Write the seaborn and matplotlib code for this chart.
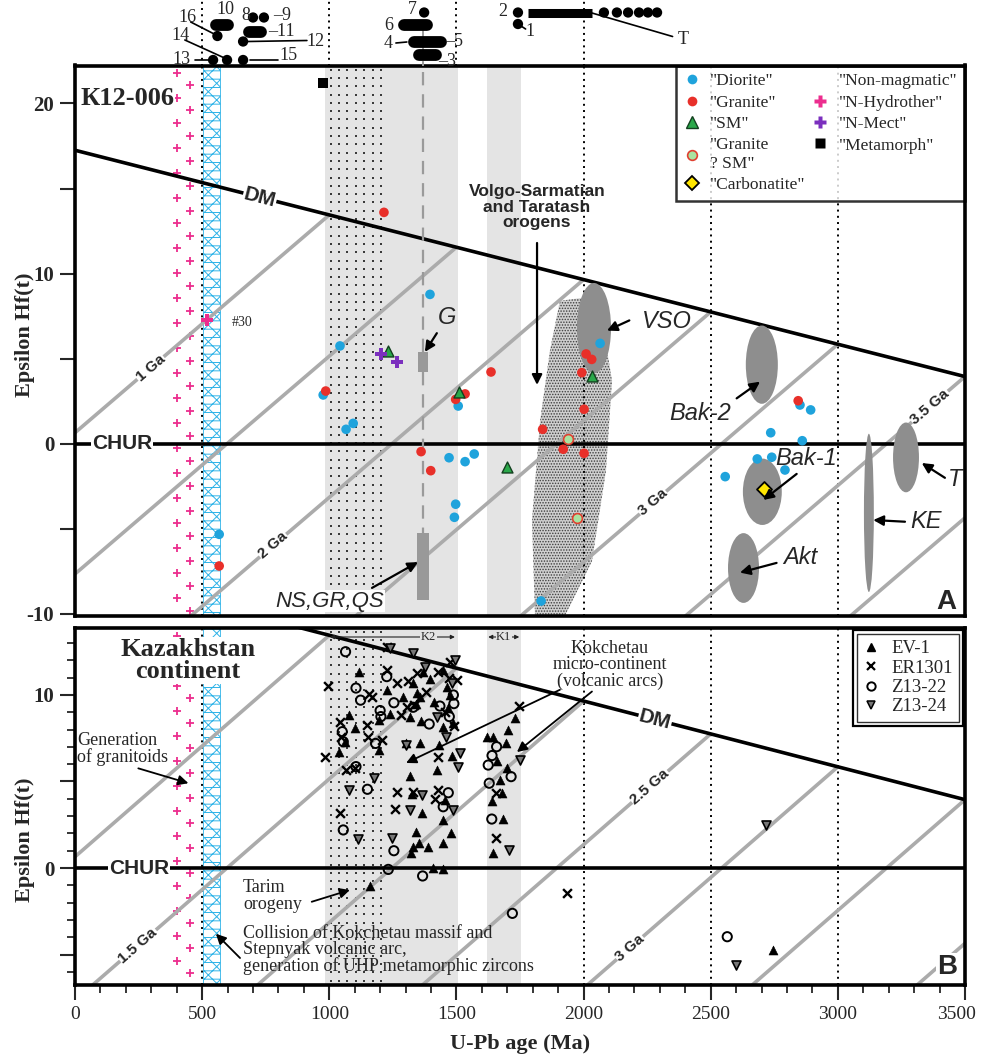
import numpy as np
import matplotlib
matplotlib.use("Agg")
import matplotlib.pyplot as plt
import matplotlib.transforms as mtransforms
import seaborn as sns
from matplotlib.patches import Ellipse, Rectangle, Polygon
from matplotlib.lines import Line2D

# ---------------------------------------------------------------- data
# Panel A: sample K12-006, U-Pb age (Ma) and epsilon Hf(t)
diorite_age = [976, 1066, 1094, 1042, 1396, 1471, 1534, 1570, 1507, 1497, 1492, 567,
               1833, 2065, 2851, 2893, 2736, 2860, 2683, 2740, 2792, 2557]
diorite_eps = [2.87, 0.85, 1.20, 5.75, 8.78, -0.82, -1.05, -0.60, 2.22, -3.55, -4.32, -5.32,
               -9.24, 5.90, 2.28, 1.99, 0.65, 0.18, -0.89, -0.79, -1.54, -1.93]
granite_age = [986, 1215, 1361, 1399, 1534, 1497, 1636, 2010, 2032, 1993, 2002, 1839,
               1920, 2002, 567, 2844]
granite_eps = [3.10, 13.6, -0.46, -1.58, 2.93, 2.61, 4.22, 5.28, 4.96, 4.18, 2.03, 0.85,
               -0.32, -0.56, -7.18, 2.53]
sm_age = [1510, 1697, 2032, 1231]
sm_eps = [3.06, -1.39, 3.98, 5.45]
granite_sm_age = [1940, 1973]
granite_sm_eps = [0.26, -4.38]
carbonatite_age = [2711]
carbonatite_eps = [-2.66]
hydrother_age = [519]
hydrother_eps = [7.27]
mect_age = [1203, 1266]
mect_eps = [5.28, 4.81]
metamorph_age = [976]
metamorph_eps = [21.2]

# Reference fields (centre age, centre eps, width Ma, height eps)
field_names = ["VSO", "Bak-2", "Bak-1", "Akt", "KE", "T"]
field_age = [2041, 2701, 2703, 2629, 3122, 3268]
field_eps = [6.8, 4.65, -2.82, -7.3, -4.06, -0.8]
field_width = [134, 126, 153, 122, 39, 102]
field_height = [5.3, 4.6, 3.9, 4.1, 9.3, 4.1]

# Small reference boxes G and NS,GR,QS (age range, eps range)
box_names = ["G", "NS,GR,QS"]
box_age = [(1349, 1390), (1346, 1393)]
box_eps = [(4.2, 5.4), (-9.18, -5.22)]

# Volgo-Sarmatian / Taratash stippled outline
vs_age = [1907, 2057, 2112, 2088, 2033, 1927, 1809, 1797, 1829, 1868]
vs_eps = [8.4, 8.7, 3.7, -1.6, -6.9, -10.1, -10.1, -4.5, 1.35, 5.5]

# Panel B: Kazakhstan continent samples
ev1_age = [1118, 1079, 1039, 1197, 1197, 1226, 1330, 1357, 1317, 1302, 1357, 1317, 1324,
           1341, 1328, 1354, 1320, 1446, 1446, 1455, 1422, 1481, 1448, 1433, 1468, 1462,
           1448, 1370, 1344, 1619, 1645, 1704, 1730, 1695, 1671, 1678, 1645, 1682, 1409,
           1448, 1160, 2746, 1063, 1340, 1360, 1395, 1410, 1475, 1485, 1290, 1240, 1100,
           1660, 1640, 1700, 1365, 1480, 1390]
ev1_eps = [11.35, 8.84, 6.72, 8.55, 6.82, 10.3, 10.7, 9.9, 8.75, 7.2, 7.2, 5.3, 4.3,
           2.1, 1.23, 1.43, 0.85, 2.77, 1.46, 3.93, 5.66, 6.47, 8.17, 7.11, 9.23, 10.48,
           11.45, 11.35, 10.1, 7.59, 7.59, 7.98, 8.65, 7.2, 5.09, 4.35, 0.85, 2.83, -0.02,
           -0.08, -1.04, -4.74, 7.3, 9.5, 8.5, 10.9, 9.6, 10.0, 8.4, 9.9, 8.9, 8.1,
           6.2, 3.9, 5.8, 3.2, 2.0, 1.2]
er1301_age = [1226, 996, 1228, 1265, 1157, 1311, 1344, 1429, 1475, 1501, 1042, 1150, 1153,
              1206, 1281, 1304, 983, 1066, 1265, 1328, 1258, 1429, 1429, 1042, 1747, 1656,
              1656, 1934, 1167, 1380, 1455, 1335, 1490, 1415, 1470, 1046, 1100]
er1301_eps = [12.8, 10.5, 11.45, 10.7, 10.06, 10.8, 11.25, 11.35, 11.93, 10.87, 8.46, 8.27,
              7.59, 7.4, 8.84, 9.29, 6.43, 5.66, 4.41, 4.41, 3.39, 6.43, 4.5, 3.2, 9.36, 4.32,
              1.72, -1.46, 9.9, 10.2, 9.0, 9.4, 8.2, 4.0, 11.0, 7.6, 5.8]
z1322_age = [1064, 1105, 1123, 1226, 1254, 1203, 1051, 1055, 1182, 1330, 1393, 1435, 1488,
             1472, 1105, 1150, 1055, 1254, 1232, 1367, 1468, 1448, 1658, 1625, 1629, 1715,
             1639, 1720, 2565, 1200, 1490, 1640]
z1322_eps = [12.5, 10.4, 9.7, 11.06, 9.55, 8.75, 7.88, 7.3, 7.2, 9.29, 8.32, 9.36, 10.0,
             8.75, 5.86, 4.55, 2.2, 1.0, -0.08, -0.46, 4.35, 3.54, 7.01, 5.95, 4.9, 5.28,
             2.83, -2.62, -3.97, 9.1, 9.5, 6.5]
z1324_age = [1239, 1330, 1514, 1507, 1079, 1363, 1317, 1488, 1114, 1245, 1750, 1708, 1302,
             1481, 1422, 2717, 2598, 1495, 1375, 1460, 1175]
z1324_eps = [12.7, 12.4, 6.63, 5.86, 4.5, 4.22, 3.35, 3.35, 1.66, 1.72, 6.24, 1.04, 7.1,
             10.7, 8.75, 2.49, -5.6, 12.0, 11.6, 7.6, 5.2]

# Model-age trajectories (Ga labels) and the depleted-mantle line
model_ages = [1000, 1500, 2000, 2500, 3000, 3500, 4000]
DM_AT_0, DM_SLOPE, CRUST_SLOPE = 17.25, -3.8, 12.8   # epsilon units per Ga

# Event bands (Ma)
granitoid_cols = [401, 452]
uhp_band = (505, 572)
k2_band = (983, 1506)
k1_band = (1620, 1752)
dot_field = (1005, 1206)

# Age axis ticks
age_ticks = list(range(0, 3501, 500))

# Numbered age groups above panel A (age, row from the top in px)
strip_dot_age = [543, 598, 661, 560, 661, 700, 743, 1373, 1742, 1742,
                 2080, 2131, 2175, 2218, 2253, 2289]
strip_dot_row = [60, 60, 60, 36, 41.5, 17.5, 17.5, 12.5, 12.5, 24,
                 12.5, 12.5, 12.5, 12.5, 12.5, 12.5]
strip_bar_start = [553, 684, 1292, 1334, 1352]
strip_bar_end = [600, 733, 1386, 1438, 1420]
strip_bar_row = [25, 32, 25, 42, 55]

# ---------------------------------------------------------------- style
sns.set_theme(style="white")
plt.rcParams.update({
    "font.family": ["Liberation Serif", "DejaVu Serif"],
    "hatch.linewidth": 0.7,
    "axes.linewidth": 2.4,
    "axes.edgecolor": "black",
    "xtick.direction": "out",
    "ytick.direction": "out",
})
SANS = ["Liberation Sans", "DejaVu Sans"]
GRAY_LINE = "#ababab"
BAND = "#e4e4e4"
FIELD = "#8e8e8e"

fig = plt.figure(figsize=(9.81, 10.59), dpi=100)
L, W = 75 / 981, 890 / 981
axA = fig.add_axes([L, 1 - 616 / 1059, W, (616 - 65.5) / 1059])
axB = fig.add_axes([L, 1 - 985 / 1059, W, (985 - 628) / 1059])
axT = fig.add_axes([L, 1 - 65.5 / 1059, W, 65.5 / 1059])

axA.set_xlim(0, 3500)
axA.set_ylim(-10.12, 22.23)
axB.set_xlim(0, 3500)
axB.set_ylim(-6.76, 13.87)
axT.set_xlim(0, 3500)
axT.set_ylim(65.5, 0)
axT.axis("off")


def eps_dm(t):
    return DM_AT_0 + DM_SLOPE * np.asarray(t, float) / 1000


def eps_crust(t, T):
    return eps_dm(T) - CRUST_SLOPE * (T - np.asarray(t, float)) / 1000


def slope_angle(ax, x, y, dx, dy):
    p1 = ax.transData.transform((x, y))
    p2 = ax.transData.transform((x + dx, y + dy))
    return np.degrees(np.arctan2(p2[1] - p1[1], p2[0] - p1[0]))


def sans_label(ax, x, y, s, size, angle=0, weight="bold", style="normal"):
    ax.text(x, y, s, fontsize=size, family=SANS, weight=weight, style=style,
            rotation=angle, rotation_mode="anchor", ha="center", va="center",
            zorder=7, bbox=dict(fc="white", ec="none", pad=0.6))


def arrow(ax, tail, head, lw=1.6):
    ax.annotate("", xy=head, xytext=tail, zorder=8,
                arrowprops=dict(arrowstyle="-|>", color="black", lw=lw,
                                mutation_scale=15, shrinkA=0, shrinkB=0))


def background(ax):
    y0, y1 = ax.get_ylim()
    px = (y1 - y0) / ax.bbox.height
    # grey event bands
    ax.axvspan(*k2_band, color=BAND, lw=0, zorder=0.2)
    ax.axvspan(*k1_band, color=BAND, lw=0, zorder=0.2)
    # dotted texture on the older part of the K2 band
    step = 8.3 * px
    ys = np.arange(y1 - step / 2, y0, -step)
    xs = np.arange(dot_field[0], dot_field[1] + 1, 33)
    X, Y = np.meshgrid(xs, ys)
    ax.scatter(X.ravel(), Y.ravel(), s=2.6, color="#3a3a3a", marker="s", lw=0, zorder=1)
    # UHP metamorphism band
    ax.axvspan(*uhp_band, facecolor="white", edgecolor="#2fb3e8", hatch="xx--",
               lw=0.6, zorder=1)
    # granitoid generation (magenta crosses)
    stepp = 12.5 * px
    yp = np.arange(y1 - stepp * 0.6, y0, -stepp)
    xp = [granitoid_cols[i % 2] for i in range(len(yp))]
    ax.scatter(xp, yp, marker="+", s=26, color="#ec2d8e", lw=1.3, zorder=1.5)
    # dotted age markers
    for a in [500, 2000, 2500, 3000]:
        ax.axvline(a, color="black", ls=(0, (1, 2.2)), lw=1.4, zorder=2)
    # model-age trajectories
    for T in model_ages:
        t = np.linspace(0, min(T, 3500), 200)
        ax.plot(t, eps_crust(t, T), color=GRAY_LINE, lw=2.6, zorder=2.2,
                solid_capstyle="butt")
    t = np.linspace(0, 3500, 50)
    ax.plot(t, eps_dm(t), color="black", lw=2.6, zorder=3)
    ax.axhline(0, color="black", lw=2.6, zorder=3)


def frame(ax):
    for sp in ax.spines.values():
        sp.set_linewidth(2.6)
        sp.set_color("black")
        sp.set_zorder(10)


# ---------------------------------------------------------------- panel A
background(axA)
axA.add_patch(Polygon(np.column_stack([vs_age, vs_eps]), closed=True,
                      facecolor="#cfcfcf", edgecolor="#3e3e3e", hatch="......",
                      lw=0, zorder=1.2))
for a, e, w, h in zip(field_age, field_eps, field_width, field_height):
    axA.add_patch(Ellipse((a, e), w, h, facecolor=FIELD, edgecolor="none", zorder=3.5))
for (a0, a1), (e0, e1) in zip(box_age, box_eps):
    axA.add_patch(Rectangle((a0, e0), a1 - a0, e1 - e0, facecolor="#999999",
                            edgecolor="none", zorder=3.5))
axA.plot([1370, 1370], [box_eps[0][1], 22.3], color="#9a9a9a", lw=1.6,
         ls=(0, (6, 4)), zorder=3.2)
axA.plot([1370, 1370], [box_eps[0][0], box_eps[1][1]], color="#9a9a9a", lw=1.6,
         ls=(0, (6, 4)), zorder=3.2)

sns.scatterplot(x=diorite_age, y=diorite_eps, ax=axA, color="#1fa3dc", s=48,
                edgecolor="none", legend=False, zorder=5)
sns.scatterplot(x=granite_age, y=granite_eps, ax=axA, color="#e8302a", s=48,
                edgecolor="none", legend=False, zorder=5)
sns.scatterplot(x=sm_age, y=sm_eps, ax=axA, color="#2aa84a", marker="^", s=62,
                edgecolor="#13401f", linewidth=1.0, legend=False, zorder=5)
sns.scatterplot(x=granite_sm_age, y=granite_sm_eps, ax=axA, color="#a9e3a0", s=50,
                edgecolor="#e04030", linewidth=1.2, legend=False, zorder=5)
sns.scatterplot(x=carbonatite_age, y=carbonatite_eps, ax=axA, color="#ffe600",
                marker="D", s=58, edgecolor="black", linewidth=1.3, legend=False, zorder=5)
sns.scatterplot(x=hydrother_age, y=hydrother_eps, ax=axA, color="#ec2d8e", marker="P",
                s=80, edgecolor="none", legend=False, zorder=5)
sns.scatterplot(x=mect_age, y=mect_eps, ax=axA, color="#7b2fbe", marker="P", s=80,
                edgecolor="none", legend=False, zorder=5)
sns.scatterplot(x=metamorph_age, y=metamorph_eps, ax=axA, color="black", marker="s",
                s=55, edgecolor="none", legend=False, zorder=5)

# labels on lines
sans_label(axA, 185, 0, "CHUR", 15)
sans_label(axA, 727, eps_dm(727), "DM", 15, slope_angle(axA, 727, 0, 100, DM_SLOPE * 0.1))
for txt, t, T in [("1 Ga", 297, 1000), ("2 Ga", 779, 2000), ("3 Ga", 2273, 3000),
                  ("3.5 Ga", 3362, 3500)]:
    sans_label(axA, t, eps_crust(t, T), txt, 11,
               slope_angle(axA, t, 0, 100, CRUST_SLOPE * 0.1))

axA.text(20, 20.3, "К12-006", fontsize=19, weight="bold", ha="left", va="center",
         zorder=7, bbox=dict(fc="white", ec="none", pad=1))
axA.text(617, 7.1, "#30", fontsize=10, ha="left", va="center", zorder=7)
axA.text(1817, 13.9, "Volgo-Sarmatian\nand Taratash\norogens", family=SANS,
         weight="bold", fontsize=12.5, ha="center", va="center", linespacing=1.05,
         zorder=7)
arrow(axA, (1817, 11.8), (1817, 3.46))
axA.text(1463, 7.4, "G", family=SANS, style="italic", fontsize=17, ha="center",
         va="center", zorder=7)
arrow(axA, (1423, 6.5), (1376, 5.4))
axA.text(1003, -9.25, "NS,GR,QS", family=SANS, style="italic", fontsize=16,
         ha="center", va="center", zorder=7, bbox=dict(fc="white", ec="none", pad=0.5))
arrow(axA, (1168, -8.47), (1349, -6.95))
for txt, pos, tail, head in [
        ("VSO", (2327, 7.17), (2180, 7.25), (2092, 6.65)),
        ("Bak-2", (2458, 1.8), (2602, 2.67), (2694, 3.65)),
        ("Bak-1", (2875, -0.84), (2838, -1.77), (2707, -3.3)),
        ("Akt", (2851, -6.7), (2759, -7.0), (2615, -7.57)),
        ("KE", (3347, -4.58), (3264, -4.58), (3139, -4.48)),
        ("T", (3460, -2.1), (3421, -2.0), (3330, -1.13))]:
    axA.text(*pos, txt, family=SANS, style="italic", fontsize=17, ha="center",
             va="center", zorder=7)
    arrow(axA, tail, head)
axA.text(3428, -9.3, "A", family=SANS, weight="bold", fontsize=20, ha="center",
         va="center", zorder=7, bbox=dict(fc="white", ec="none", pad=0.5))

handlesA = [
    Line2D([], [], ls="none", marker="o", ms=7, mfc="#1fa3dc", mec="none"),
    Line2D([], [], ls="none", marker="o", ms=7, mfc="#e8302a", mec="none"),
    Line2D([], [], ls="none", marker="^", ms=8, mfc="#2aa84a", mec="#13401f"),
    Line2D([], [], ls="none", marker="o", ms=7, mfc="#a9e3a0", mec="#e04030", mew=1.2),
    Line2D([], [], ls="none", marker="D", ms=7, mfc="#ffe600", mec="black", mew=1.3),
    Line2D([], [], ls="none", marker=None),
    Line2D([], [], ls="none", marker="P", ms=9, mfc="#ec2d8e", mec="none"),
    Line2D([], [], ls="none", marker="P", ms=9, mfc="#7b2fbe", mec="none"),
    Line2D([], [], ls="none", marker="s", ms=7, mfc="black", mec="none"),
]
labelsA = ['"Diorite"', '"Granite"', '"SM"', '"Granite\n? SM"', '"Carbonatite"',
           '"Non-magmatic"', '"N-Hydrother"', '"N-Mect"', '"Metamorph"']
legA = axA.legend(handlesA, labelsA, ncol=2, loc="upper right", borderaxespad=0,
                  frameon=True, fancybox=False, edgecolor="black", fontsize=12.5,
                  handlelength=0.9, handletextpad=0.6, columnspacing=0.4,
                  labelspacing=0.3, borderpad=0.45)
legA.get_frame().set_linewidth(1.8)
legA.set_zorder(9)

axA.set_xticks([])
axA.set_yticks([-10, 0, 10, 20])
axA.set_yticks([-5, 5, 15], minor=True)
axA.set_yticklabels(["-10", "0", "10", "20"], fontsize=15, weight="bold")
axA.tick_params(axis="y", which="both", length=11, width=1.5, left=True, pad=4)
axA.set_xlabel("")
frame(axA)

# ---------------------------------------------------------------- panel B
background(axB)
sns.scatterplot(x=ev1_age, y=ev1_eps, ax=axB, color="black", marker="^", s=42,
                edgecolor="black", linewidth=0.4, legend=False, zorder=5)
sns.scatterplot(x=er1301_age, y=er1301_eps, ax=axB, color="black", marker="x", s=40,
                linewidth=1.7, legend=False, zorder=5)
sns.scatterplot(x=z1322_age, y=z1322_eps, ax=axB, marker="o", s=44, facecolor="none",
                edgecolor="black", linewidth=1.4, legend=False, zorder=5)
sns.scatterplot(x=z1324_age, y=z1324_eps, ax=axB, marker="v", s=42, color="#777777",
                edgecolor="black", linewidth=1.2, legend=False, zorder=5)

sans_label(axB, 252, 0, "CHUR", 15)
sans_label(axB, 2281, eps_dm(2281), "DM", 15, slope_angle(axB, 2281, 0, 100, DM_SLOPE * 0.1))
for txt, t, T in [("1.5 Ga", 248, 1500), ("2.5 Ga", 2261, 2500), ("3 Ga", 2182, 3000)]:
    sans_label(axB, t, eps_crust(t, T), txt, 11,
               slope_angle(axB, t, 0, 100, CRUST_SLOPE * 0.1))

axB.text(445, 12.0, "Kazakhstan\ncontinent", fontsize=19, weight="bold", ha="center",
         va="center", linespacing=0.95, zorder=7, bbox=dict(fc="white", ec="none", pad=0.5))
axB.text(8, 6.9, "Generation\nof granitoids", fontsize=13, ha="left", va="center",
         linespacing=0.95, zorder=7, bbox=dict(fc="white", ec="none", pad=0.3))
arrow(axB, (249, 5.76), (446, 4.9), lw=1.3)
axB.text(661, -1.62, "Tarim\norogeny", fontsize=13, ha="left", va="center",
         linespacing=0.95, zorder=7)
arrow(axB, (931, -1.95), (1081, -1.27), lw=1.3)
axB.text(661, -4.74, "Collision of Kokchetau massif and\nStepnyak volcanic arc,\n"
         "generation of UHP metamorphic zircons", fontsize=13, ha="left", va="center",
         linespacing=0.92, zorder=7)
arrow(axB, (649, -5.2), (554, -3.8), lw=1.3)
axB.text(2104, 11.73, "Kokchetau\nmicro-continent\n(volcanic arcs)", fontsize=13,
         ha="center", va="center", linespacing=0.95, zorder=7)
arrow(axB, (1907, 10.3), (1302, 6.07), lw=1.3)
arrow(axB, (2033, 10.2), (1738, 6.7), lw=1.3)
axB.annotate("", xy=(k2_band[0] + 20, 13.35), xytext=(k2_band[1] - 12, 13.35),
             arrowprops=dict(arrowstyle="<|-|>", color="#222222", lw=0.8,
                             mutation_scale=6, shrinkA=0, shrinkB=0), zorder=7)
axB.text(1390, 13.35, "K2", fontsize=9, ha="center", va="center", zorder=8,
         bbox=dict(fc=BAND, ec="none", pad=0.5))
axB.annotate("", xy=(k1_band[0] + 5, 13.35), xytext=(k1_band[1] - 5, 13.35),
             arrowprops=dict(arrowstyle="<|-|>", color="#222222", lw=0.8,
                             mutation_scale=6, shrinkA=0, shrinkB=0), zorder=7)
axB.text(1686, 13.35, "K1", fontsize=9, ha="center", va="center", zorder=8,
         bbox=dict(fc=BAND, ec="none", pad=0.3))
axB.text(3428, -5.7, "B", family=SANS, weight="bold", fontsize=20, ha="center",
         va="center", zorder=7, bbox=dict(fc="white", ec="none", pad=0.5))

handlesB = [
    Line2D([], [], ls="none", marker="^", ms=6, mfc="black", mec="black"),
    Line2D([], [], ls="none", marker="x", ms=6, mec="black", mew=1.6),
    Line2D([], [], ls="none", marker="o", ms=6, mfc="none", mec="black", mew=1.4),
    Line2D([], [], ls="none", marker="v", ms=6, mfc="#777777", mec="black", mew=1.1),
]
legB = axB.legend(handlesB, ["EV-1", "ER1301", "Z13-22", "Z13-24"], loc="upper right",
                  borderaxespad=0.3, frameon=True, fancybox=False, edgecolor="black",
                  fontsize=13.5, handlelength=0.8, handletextpad=0.7,
                  labelspacing=0.12, borderpad=0.35)
legB.get_frame().set_linewidth(1.0)
legB.set_zorder(9)

axB.set_xticks(age_ticks)
axB.set_xticks(np.arange(0, 3501, 100), minor=True)
# the last age label is written separately so that it stays inside the canvas
axB.set_xticklabels([str(v) for v in age_ticks[:-1]] + [""], fontsize=14)
axB.tick_params(axis="both", which="major", length=11, width=1.5, bottom=True,
                left=True, pad=4)
axB.tick_params(axis="both", which="minor", length=6, width=1.3, bottom=True, left=True)
fig.canvas.draw()
ref_lab = axB.get_xticklabels()[1]
ref_box = ref_lab.get_window_extent()
last_tr = mtransforms.blended_transform_factory(axB.transData, fig.transFigure)
axB.text(age_ticks[-1] - 35, ref_box.y1 / fig.bbox.height, str(age_ticks[-1]),
         transform=last_tr, fontsize=14, ha="center", va="top", clip_on=False)
axB.set_yticks([-5, 0, 5, 10])
axB.set_yticks(np.arange(-6, 14, 1), minor=True)
axB.set_yticklabels(["", "0", "", "10"], fontsize=15, weight="bold")
axB.set_xlabel("U-Pb age (Ma)", fontsize=16, weight="bold", labelpad=8)
frame(axB)

fig.text(25 / 981, 1 - 335 / 1059, "Epsilon Hf(t)", rotation=90, fontsize=16,
         weight="bold", ha="center", va="center")
fig.text(25 / 981, 1 - 840 / 1059, "Epsilon Hf(t)", rotation=90, fontsize=16,
         weight="bold", ha="center", va="center")

# ---------------------------------------------------------------- top strip
for a in [500, 1000, 1500, 2000]:
    axT.axvline(a, color="black", ls=(0, (1, 2.2)), lw=1.4, zorder=1)
axT.plot([1370, 1370], [30, 65.5], color="#9a9a9a", lw=1.4, ls=(0, (5, 3)), zorder=1)
sns.scatterplot(x=strip_dot_age, y=strip_dot_row, ax=axT, color="black", s=55,
                edgecolor="none", legend=False, zorder=3)
for a0, a1, r in zip(strip_bar_start, strip_bar_end, strip_bar_row):
    axT.plot([a0, a1], [r, r], color="black", lw=8.5, solid_capstyle="round", zorder=3)
axT.plot([1781, 2033], [12.5, 12.5], color="black", lw=6.5, solid_capstyle="butt", zorder=3)
for (a0, r0), (a1, r1) in [((455, 22), (555, 35)), ((432, 40), (588, 58)),
                           ((470, 60), (525, 60)), ((680, 41.5), (912, 40.5)),
                           ((690, 60), (800, 60)), ((2033, 13), (2350, 36.5)),
                           ((1742, 24), (1772, 29)), ((1262, 43), (1305, 42))]:
    axT.plot([a0, a1], [r0, r1], color="black", lw=1.2, zorder=2)
for txt, a, r in [("16", 441, 17), ("10", 592, 10), ("14", 413, 36), ("13", 420, 60),
                  ("8", 670, 16), ("–9", 815, 16), ("–11", 812, 32), ("12", 945, 41),
                  ("15", 838, 56), ("7", 1325, 9), ("6", 1235, 25), ("4", 1230, 43),
                  ("–5", 1492, 41), ("–3", 1462, 61), ("2", 1683, 11), ("1", 1789, 31),
                  ("T", 2391, 40)]:
    axT.text(a, r, txt, fontsize=13, ha="center", va="center", zorder=4)

# double frame around the panel B legend
fig.canvas.draw()
bb = legB.get_frame().get_window_extent()
pad = 3.5
outer = Rectangle(((bb.x0 - pad) / fig.bbox.width, (bb.y0 - pad) / fig.bbox.height),
                  (bb.width + 2 * pad) / fig.bbox.width,
                  (bb.height + 2 * pad) / fig.bbox.height,
                  transform=fig.transFigure, facecolor="none", edgecolor="black",
                  lw=1.6, zorder=20)
fig.add_artist(outer)

fig.savefig("out.png", dpi=100)
